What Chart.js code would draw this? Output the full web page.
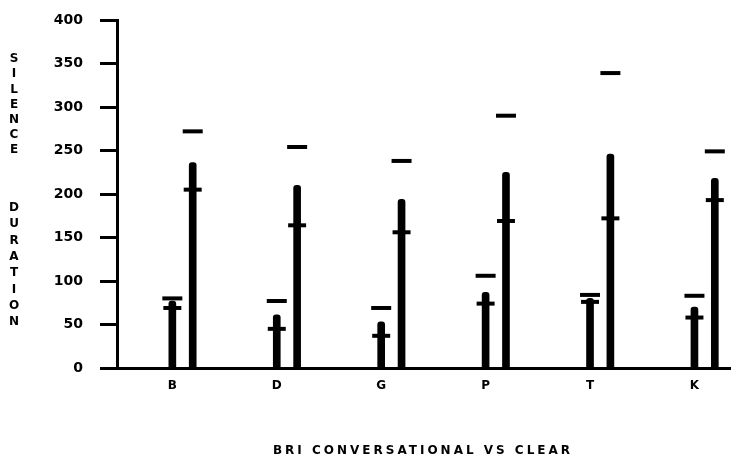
<!DOCTYPE html>
<html>
<head>
<meta charset="utf-8">
<script src="https://cdn.jsdelivr.net/npm/chart.js@4.4.1/dist/chart.umd.min.js"></script>
<style>
  html, body { margin: 0; padding: 0; background: #fff; }
  #wrap { width: 731px; height: 462px; }
</style>
</head>
<body>
<div id="wrap"><canvas id="myChart" width="731" height="462"></canvas></div>
<script>
// silence duration per stop consonant, conversational vs clear speech
const categories = ["B", "D", "G", "P", "T", "K"];
const yTicks = [0, 50, 100, 150, 200, 250, 300, 350, 400];

const convTop = [77, 61, 53, 87, 80, 70];
const convMean = [69, 45, 37, 74, 76, 58];
const convDash = [80, 77, 69, 106, 84, 83];

const clearTop = [236, 210, 194, 225, 246, 218];
const clearMean = [205, 164, 156, 169, 172, 193];
const clearDash = [272, 254, 238, 290, 339, 249];

const CLEAR_OFFSET = 0.195;
const FONT = "'DejaVu Sans', sans-serif";

const pts = (vals, off) => vals.map((v, i) => ({ x: i + off, y: v }));

// stacked vertical axis title + bottom title
const textPlugin = {
  id: "texts",
  afterDraw(chart) {
    const ctx = chart.ctx;
    ctx.save();
    ctx.fillStyle = "#000";
    ctx.textAlign = "center";
    ctx.textBaseline = "middle";
    ctx.font = "bold 12px " + FONT;
    "SILENCE".split("").forEach((ch, i) => ctx.fillText(ch, 14, 59 + i * 15.2));
    "DURATION".split("").forEach((ch, i) => ctx.fillText(ch, 14, 208 + i * 16.3));

    ctx.font = "bold 12px " + FONT;
    ctx.letterSpacing = "3px";
    ctx.fillText("BRI CONVERSATIONAL VS CLEAR", 423, 451);
    ctx.restore();
  },
};

const ctx = document.getElementById("myChart").getContext("2d");
new Chart(ctx, {
  data: {
    datasets: [
      {
        type: "bar",
        label: "Conversational",
        data: pts(convTop, 0),
        backgroundColor: "#000",
        barThickness: 7,
        borderRadius: 3,
        grouped: false,
      },
      {
        type: "bar",
        label: "Clear",
        data: pts(clearTop, CLEAR_OFFSET),
        backgroundColor: "#000",
        barThickness: 7,
        borderRadius: 3,
        grouped: false,
      },
      {
        type: "scatter",
        label: "Conversational mean",
        data: pts(convMean, 0),
        pointStyle: "line",
        radius: 9,
        borderWidth: 4,
        borderColor: "#000",
      },
      {
        type: "scatter",
        label: "Clear mean",
        data: pts(clearMean, CLEAR_OFFSET),
        pointStyle: "line",
        radius: 9,
        borderWidth: 4,
        borderColor: "#000",
      },
      {
        type: "scatter",
        label: "Conversational dash",
        data: pts(convDash, 0),
        pointStyle: "line",
        radius: 10,
        borderWidth: 4,
        borderColor: "#000",
      },
      {
        type: "scatter",
        label: "Clear dash",
        data: pts(clearDash, CLEAR_OFFSET),
        pointStyle: "line",
        radius: 10,
        borderWidth: 4,
        borderColor: "#000",
      },
    ],
  },
  options: {
    responsive: false,
    animation: false,
    events: [],
    layout: { autoPadding: false, padding: { top: 20, right: 0, left: 0, bottom: 0 } },
    plugins: {
      legend: { display: false },
      tooltip: { enabled: false },
      title: { display: false },
    },
    scales: {
      x: {
        type: "linear",
        min: -0.53,
        max: 5.35,
        offset: false,
        border: { display: true, color: "#000", width: 3 },
        grid: { display: true, drawOnChartArea: false, drawTicks: false },
        afterBuildTicks: (scale) => {
          scale.ticks = categories.map((c, i) => ({ value: i }));
        },
        afterFit: (scale) => {
          scale.height = 94;
          scale.paddingLeft = 0;
          scale.paddingRight = 0;
        },
        ticks: {
          padding: 11,
          color: "#000",
          font: { family: FONT, size: 12, weight: "bold" },
          callback: (v) => categories[v] ?? "",
        },
      },
      y: {
        type: "linear",
        min: 0,
        max: 400,
        stacked: false,
        border: { display: true, color: "#000", width: 3 },
        grid: {
          drawOnChartArea: false,
          drawTicks: true,
          tickLength: 17,
          tickWidth: 3,
          tickColor: "#000",
        },
        afterBuildTicks: (scale) => {
          scale.ticks = yTicks.map((v) => ({ value: v }));
        },
        afterFit: (scale) => {
          scale.width = 117;
          scale.paddingTop = 0;
          scale.paddingBottom = 0;
        },
        ticks: {
          padding: 17,
          color: "#000",
          font: { family: FONT, size: 14, weight: "bold" },
        },
      },
    },
  },
  plugins: [textPlugin],
});
</script>
</body>
</html>
